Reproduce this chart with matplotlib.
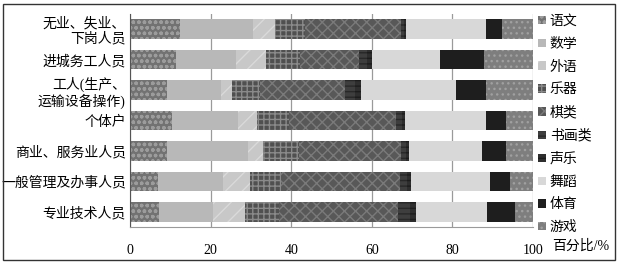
import matplotlib
matplotlib.use('Agg')
import matplotlib.pyplot as plt
from matplotlib.patches import Rectangle
import numpy as np

plt.rcParams['font.family'] = ['Liberation Serif', 'Noto Sans CJK SC']
plt.rcParams['hatch.linewidth'] = 1.0

# occupations, top to bottom
categories = ['无业、失业、\n下岗人员', '进城务工人员', '工人(生产、\n运输设备操作)', '个体户',
              '商业、服务业人员', '一般管理及办事人员', '专业技术人员']
series = ['语文', '数学', '外语', '乐器', '棋类', '书画类', '声乐', '舞蹈', '体育', '游戏']

# percentage share of each class type, one list per series (rows follow categories)
chinese = [12.3, 11.5, 9.3, 10.3, 9.3, 7.0, 7.3]
maths = [18.2, 14.9, 13.4, 16.5, 20.0, 16.1, 13.3]
foreign = [5.5, 7.4, 2.5, 4.6, 3.7, 6.8, 7.9]
instrument = [7.5, 8.5, 7.0, 8.0, 9.0, 7.5, 8.5]
chess = [23.8, 14.4, 21.1, 26.7, 25.3, 29.5, 29.6]
painting = [0.8, 2.2, 2.5, 1.3, 1.2, 1.8, 2.8]
vocal = [0.4, 1.2, 1.4, 0.8, 0.7, 1.0, 1.5]
dance = [19.8, 16.9, 23.8, 20.1, 18.1, 19.6, 17.8]
sports = [4.0, 10.8, 7.4, 5.1, 6.1, 5.1, 6.8]
games = [7.7, 12.2, 11.6, 6.6, 6.6, 5.6, 4.5]

values = [chinese, maths, foreign, instrument, chess, painting, vocal, dance, sports, games]

# grayscale fills with hatches standing in for the printed textures
faces = ['#727272', '#b8b8b8', '#c8c8c8', '#505050', '#585858',
         '#3e3e3e', '#2e2e2e', '#d8d8d8', '#1e1e1e', '#7e7e7e']
hatches = ['ooo', None, '//', '+++', 'xxx', '---', '---', None, None, '...']
hcolors = ['#9c9c9c', '#b8b8b8', '#dadada', '#8a8a8a', '#7a7a7a',
           '#282828', '#1c1c1c', '#d8d8d8', '#1e1e1e', '#a0a0a0']

fig = plt.figure(figsize=(6.19, 2.66), dpi=100)
ax = fig.add_axes([130 / 619, 1 - 227 / 266, 403 / 619, 213 / 266])

y = np.arange(len(categories))
left = np.zeros(len(categories))
for vals, name, fc, ht, hc in zip(values, series, faces, hatches, hcolors):
    ax.barh(y, vals, left=left, height=0.64, color=fc, edgecolor=hc,
            hatch=ht, linewidth=0, label=name, zorder=2)
    left += np.array(vals)

ax.set_xlim(0, 100)
ax.set_ylim(len(categories) - 0.5, -0.5)
ax.set_xticks([0, 20, 40, 60, 80, 100])
ax.set_yticks(y)
ax.set_yticklabels(categories, fontsize=10, linespacing=1.15)
ax.tick_params(axis='x', length=0, pad=12, labelsize=10)
ax.tick_params(axis='y', length=0, pad=3)
ax.xaxis.grid(True, color='#9a9a9a', linewidth=0.9, zorder=0)
ax.set_axisbelow(True)
ax.spines['top'].set_visible(False)
ax.spines['right'].set_visible(False)
ax.spines['left'].set_color('#555555')
ax.spines['bottom'].set_color('#9a9a9a')

leg = fig.legend(loc='upper left', bbox_to_anchor=(538 / 619, 1 - 15 / 266),
                 frameon=False, fontsize=10, handlelength=0.55, handleheight=0.55,
                 handletextpad=0.3, labelspacing=0.7, borderaxespad=0, borderpad=0)

fig.text(552 / 619, 1 - 246 / 266, '百分比/%', fontsize=10, va='center', ha='left')

# outer frame around the whole figure
fig.patches.append(Rectangle((3 / 619, 1 - 260 / 266), 612 / 619, 256 / 266,
                             transform=fig.transFigure, fill=False,
                             edgecolor='#333333', linewidth=1.0))

fig.savefig('out.png', dpi=100)
plt.close(fig)
